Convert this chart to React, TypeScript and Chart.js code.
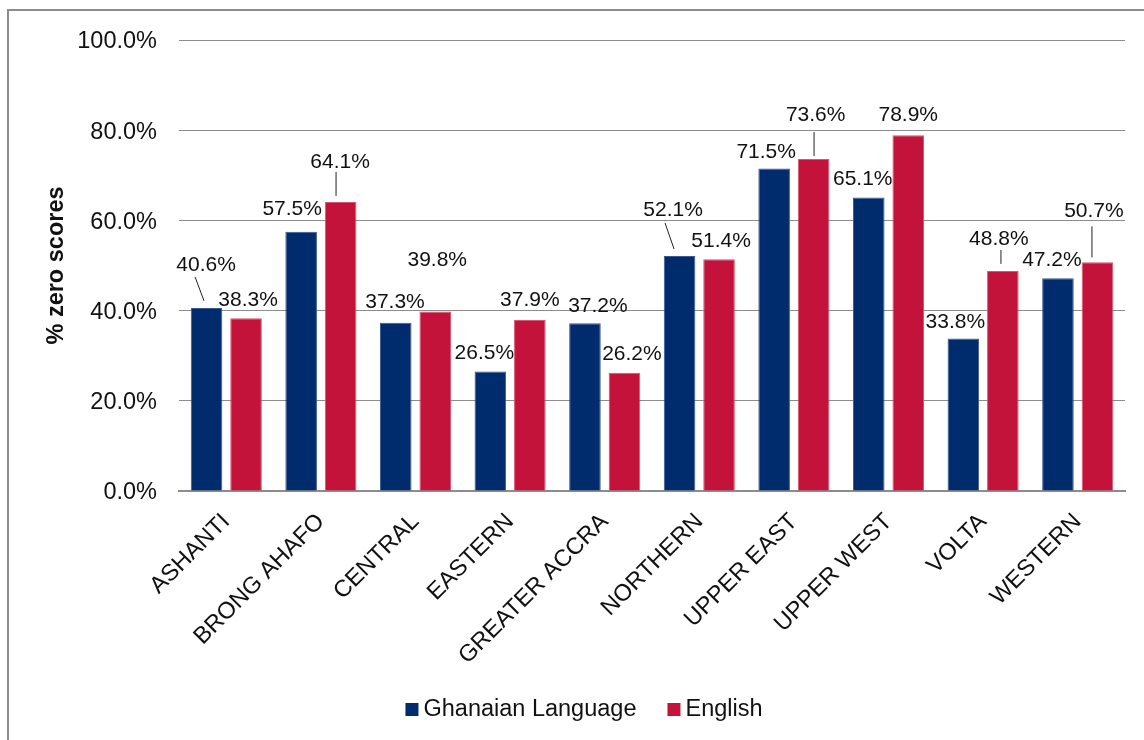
import React, { useEffect, useRef } from "react";
import { Chart, registerables } from "chart.js";

Chart.register(...registerables);

const categories = ["ASHANTI", "BRONG AHAFO", "CENTRAL", "EASTERN", "GREATER ACCRA", "NORTHERN", "UPPER EAST", "UPPER WEST", "VOLTA", "WESTERN"];
const ghanaianLanguage = [40.6, 57.5, 37.3, 26.5, 37.2, 52.1, 71.5, 65.1, 33.8, 47.2];
const english = [38.3, 64.1, 39.8, 37.9, 26.2, 51.4, 73.6, 78.9, 48.8, 50.7];
const seriesNames = ["Ghanaian Language", "English"];
const yTickValues = [0, 20, 40, 60, 80, 100];

// label placement (offset of text centre from bar top centre), styling only
const labelOffsets: number[][][] = [
  [[-0.5, -43], [-9, -22.7], [-0.75, -21], [-6, -18.5], [13, -17], [-6.5, -46], [-8, -16.5], [-6, -18.5], [-8, -16.5], [-6, -17.5]],
  [[2, -18], [-0.6, -40], [2, -51], [0, -20], [7.5, -19], [2, -18], [2, -43.5], [0, -20], [-4, -32], [-3.5, -51]],
];
// leader lines: [dataset, index, x1, y1, x2, y2] relative to bar top centre
const leaders: number[][] = [
  [0, 0, -11.5, -31, -2.5, -7],
  [0, 5, -14.5, -33, -5.5, -7],
  [1, 1, -4.6, -30, -4.6, -6],
  [1, 6, 0.4, -27, 0.4, -3],
  [1, 8, -1.9, -21, -1.9, -7],
  [1, 9, -5.5, -36, -5.5, -5],
];

const FONT = '"Liberation Sans", Arial, sans-serif';
const TEXT = "#111111";
const GRID = "#8c8c8c";
const COLORS = ["#002B6C", "#C4133A"];
const BORDERS = ["#3a5a8e", "#d8546f"];

const framePlugin = {
  id: "frame",
  beforeDraw(chart: any) {
    const ctx = chart.ctx;
    ctx.save();
    ctx.fillStyle = "#ffffff";
    ctx.fillRect(0, 0, chart.width, chart.height);
    ctx.strokeStyle = GRID;
    ctx.lineWidth = 2;
    ctx.strokeRect(8, 10, 1400, 1000);
    ctx.restore();
  },
};

const labelPlugin = {
  id: "valueLabels",
  afterDatasetsDraw(chart: any) {
    const ctx = chart.ctx;
    ctx.save();
    ctx.font = `21px ${FONT}`;
    ctx.fillStyle = TEXT;
    ctx.textAlign = "center";
    ctx.textBaseline = "middle";
    chart.data.datasets.forEach((ds: any, di: number) => {
      const meta = chart.getDatasetMeta(di);
      meta.data.forEach((bar: any, i: number) => {
        const off = labelOffsets[di][i];
        ctx.fillText(ds.data[i].toFixed(1) + "%", bar.x + off[0], bar.y + off[1]);
      });
    });
    ctx.strokeStyle = "#222222";
    ctx.lineWidth = 1;
    leaders.forEach(([di, i, x1, y1, x2, y2]) => {
      const bar = chart.getDatasetMeta(di).data[i];
      ctx.beginPath();
      ctx.moveTo(bar.x + x1, bar.y + y1);
      ctx.lineTo(bar.x + x2, bar.y + y2);
      ctx.stroke();
    });
    ctx.restore();
  },
};

const legendPlugin = {
  id: "customLegend",
  afterDraw(chart: any) {
    const ctx = chart.ctx;
    ctx.save();
    ctx.font = `23.5px ${FONT}`;
    const box = 13;
    const gap = 5;
    const between = 31;
    const items = chart.data.datasets.map((ds: any) => ({ text: ds.label, color: ds.backgroundColor, w: ctx.measureText(ds.label).width }));
    const total = items.reduce((s: number, it: any) => s + box + gap + it.w, 0) + between * (items.length - 1);
    let x = 584 - total / 2;
    const cy = 709.5;
    ctx.textBaseline = "middle";
    ctx.textAlign = "left";
    items.forEach((it: any) => {
      ctx.fillStyle = it.color;
      ctx.fillRect(x, cy - box / 2, box, box);
      ctx.fillStyle = TEXT;
      ctx.fillText(it.text, x + box + gap, cy);
      x += box + gap + it.w + between;
    });
    ctx.restore();
  },
};

export default function App() {
  const ref = useRef<HTMLCanvasElement>(null);
  useEffect(() => {
    const chart = new Chart(ref.current as HTMLCanvasElement, {
      type: "bar",
      data: {
        labels: categories,
        datasets: [
          { label: seriesNames[0], data: ghanaianLanguage, backgroundColor: COLORS[0], borderColor: BORDERS[0], borderWidth: 1 },
          { label: seriesNames[1], data: english, backgroundColor: COLORS[1], borderColor: BORDERS[1], borderWidth: 1 },
        ],
      },
      options: {
        responsive: false,
        animation: false,
        devicePixelRatio: 1,
        layout: { padding: { left: 0, top: 40, right: 19, bottom: 0 } },
        datasets: { bar: { categoryPercentage: 0.835, barPercentage: 0.8 } },
        plugins: { legend: { display: false }, tooltip: { enabled: false }, title: { display: false } },
        scales: {
          x: {
            grid: { display: false, drawTicks: false },
            border: { display: true, color: GRID, width: 2 },
            ticks: { autoSkip: false, minRotation: 45, maxRotation: 45, padding: 17, color: TEXT, font: { family: FONT, size: 23.5 } },
            afterFit: (scale: any) => { scale.height = 249; },
          },
          y: {
            min: 0,
            max: 100,
            afterBuildTicks: (scale: any) => { scale.ticks = yTickValues.map((v) => ({ value: v })); },
            grid: { color: GRID, lineWidth: 1, drawTicks: false },
            border: { display: false },
            ticks: { padding: 22, labelOffset: 2, color: TEXT, font: { family: FONT, size: 23.5 }, callback: (v: any) => Number(v).toFixed(1) + "%" },
            title: { display: true, text: "% zero scores", color: TEXT, font: { family: FONT, size: 23.5, weight: "bold" }, padding: { top: 42, bottom: 0 } },
            afterFit: (scale: any) => { scale.width = 179; },
          },
        },
      },
      plugins: [framePlugin, labelPlugin, legendPlugin],
    } as any);
    return () => chart.destroy();
  }, []);
  return (
    <div style={{ position: "fixed", left: 0, top: 0, width: 1144, height: 740, background: "#fff", overflow: "hidden" }}>
      <canvas ref={ref} width={1144} height={740} style={{ display: "block", width: 1144, height: 740 }} />
    </div>
  );
}
